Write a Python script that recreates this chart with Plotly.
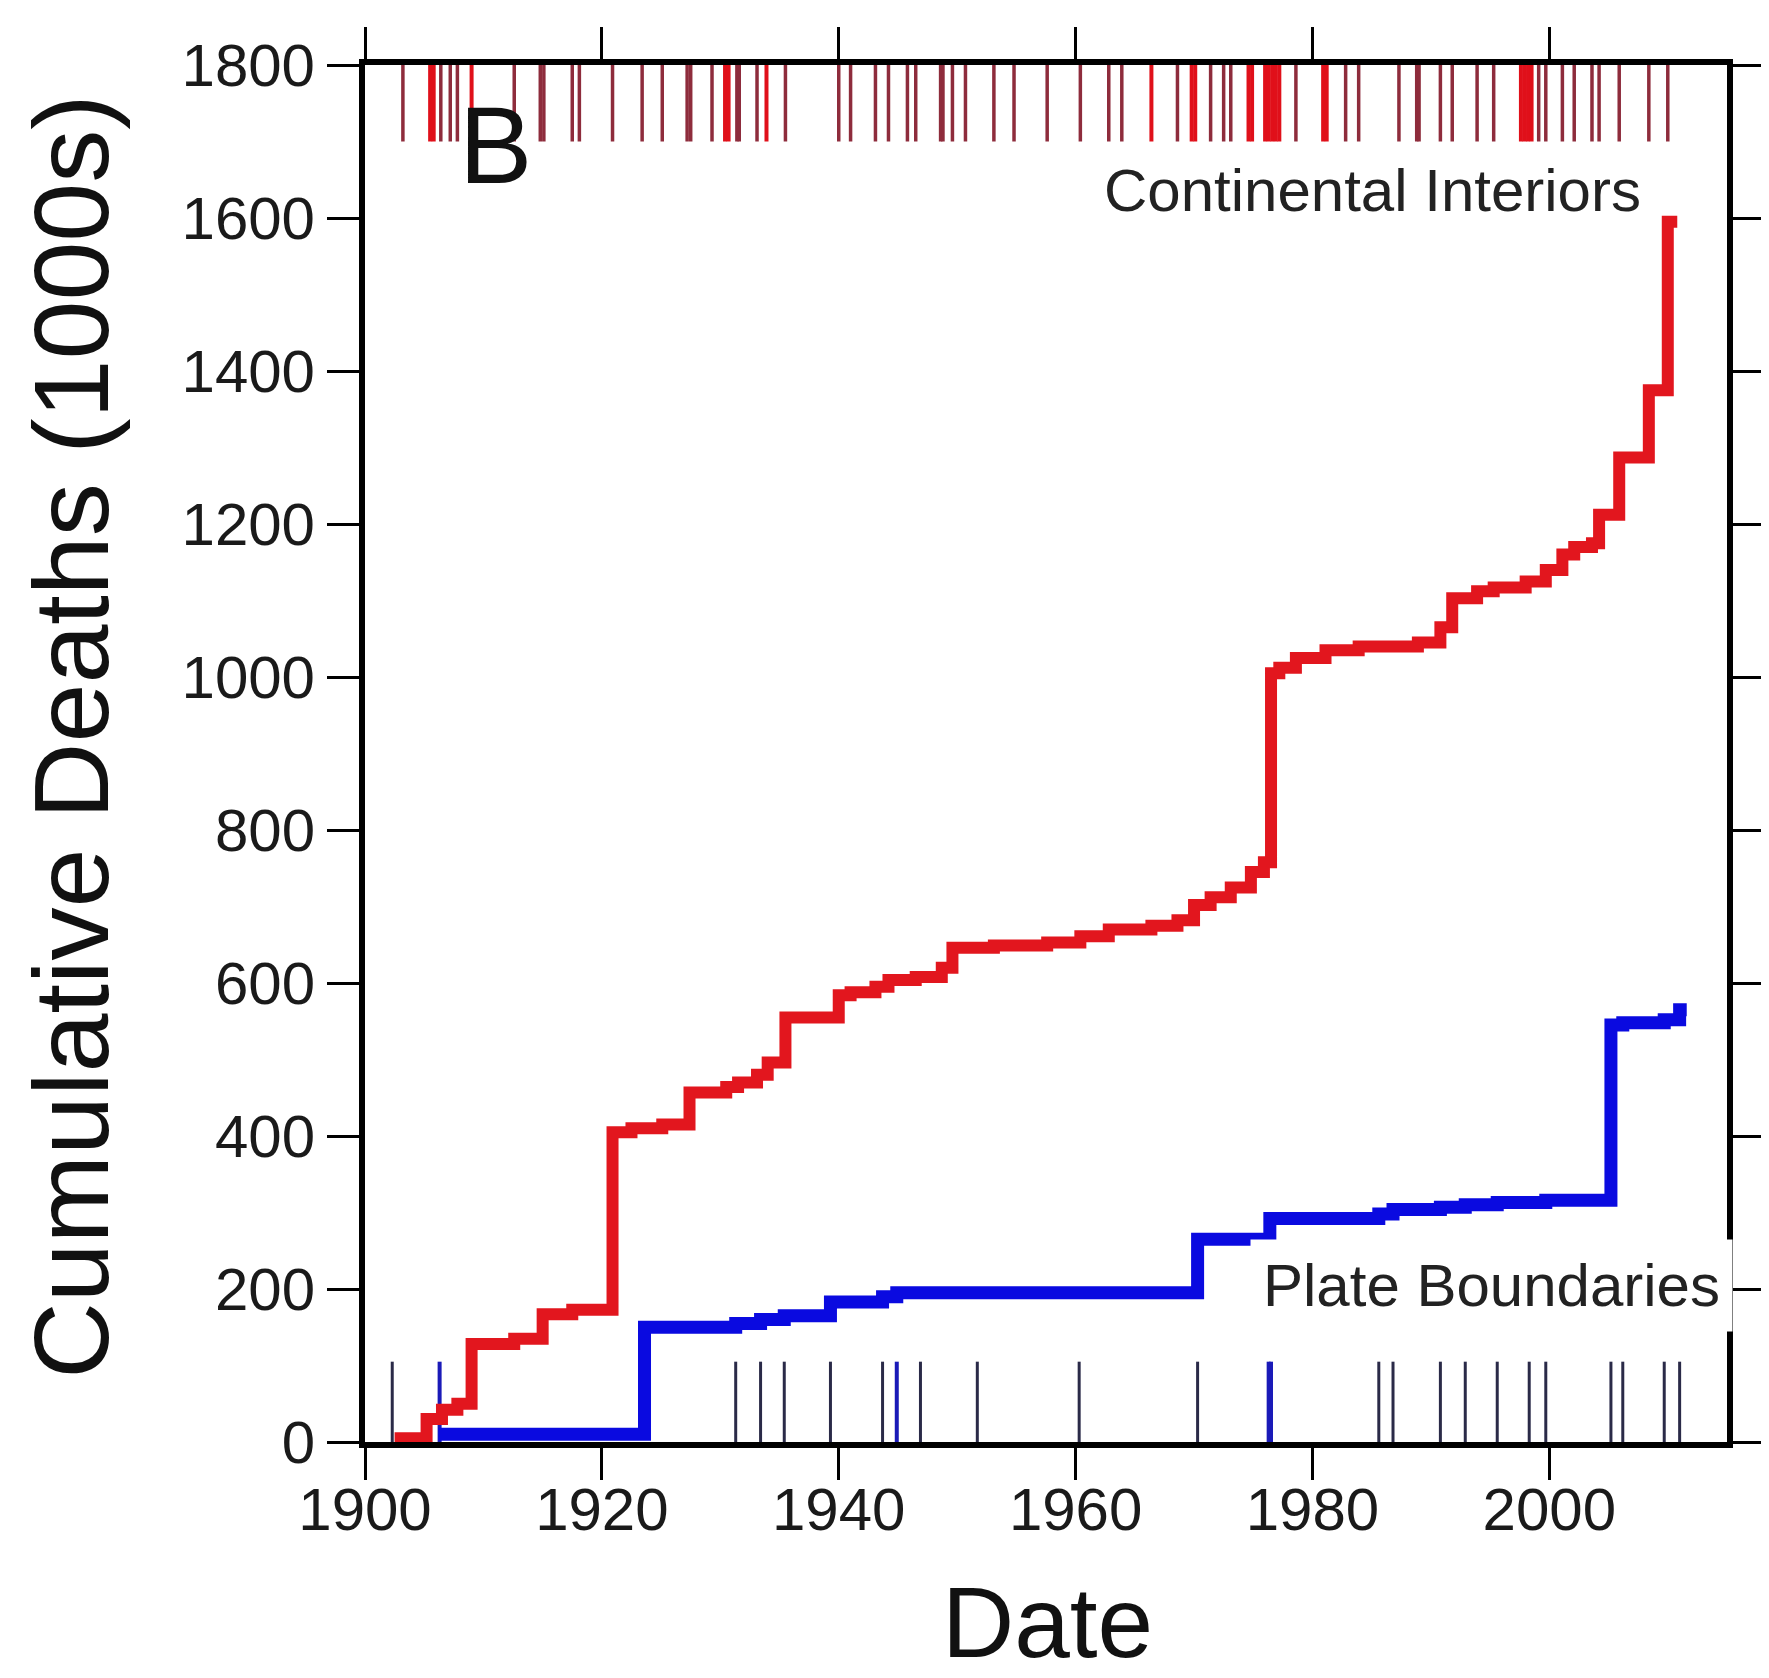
import plotly.graph_objects as go

# ---------------- data ----------------
red_years = [1902.5, 1905.2, 1906.5, 1907.8, 1909.0, 1912.6, 1915.0, 1917.5, 1920.9, 1922.5,
             1925.1, 1927.4, 1930.5, 1931.5, 1933.1, 1934.0, 1935.5, 1940.0, 1941.0, 1943.1,
             1944.2, 1946.5, 1948.7, 1949.6, 1953.1, 1957.6, 1960.4, 1962.8, 1966.4, 1968.6,
             1970.0, 1971.4, 1973.1, 1974.8, 1975.9, 1976.5, 1977.2, 1978.6, 1981.1, 1983.9,
             1988.9, 1990.8, 1991.8, 1993.9, 1995.3, 1998.0, 1999.7, 2001.1, 2002.1, 2003.6,
             2004.2, 2005.9, 2008.4, 2010.0, 2010.8]
red_values = [5, 30, 42, 50, 128, 135, 167, 173, 405, 410,
              415, 457, 464, 470, 480, 496, 555, 584, 588, 595,
              604, 608, 620, 646, 649, 653, 661, 670, 675, 682,
              702, 712, 725, 745, 758, 1005, 1012, 1025, 1035, 1040,
              1045, 1065, 1103, 1112, 1117, 1125, 1140, 1160, 1170, 1175,
              1212, 1287, 1375, 1595, 1595]

blue_years = [1906.2, 1923.6, 1931.3, 1933.4, 1935.4, 1939.3, 1943.7, 1944.9, 1970.3, 1976.4,
              1985.6, 1986.8, 1990.8, 1992.9, 1995.6, 1999.7, 2005.2, 2006.2, 2009.7, 2011.0,
              2011.6]
blue_values = [10, 150, 155, 160, 165, 183, 190, 195, 265, 292,
               298, 304, 307, 310, 313, 316, 545, 548, 552, 565,
               565]

red_rug_dark = [1903.2, 1906.4, 1907.2, 1907.8, 1912.6, 1914.8, 1915.1, 1917.5, 1918.1, 1920.9,
                1923.4, 1925.1, 1927.2, 1927.5, 1929.3, 1931.4, 1931.6, 1933.1, 1935.5, 1940.0,
                1941.0, 1943.1, 1944.2, 1945.8, 1946.5, 1948.6, 1948.8, 1949.6, 1950.7, 1953.1,
                1954.8, 1957.6, 1960.4, 1962.8, 1963.9, 1968.6, 1971.4, 1972.5, 1973.1, 1978.6,
                1982.8, 1983.9, 1987.3, 1988.8, 1989.0, 1990.8, 1991.8, 1993.9, 1995.3, 1999.1,
                1999.7, 2001.1, 2002.1, 2003.6, 2004.2, 2005.9, 2008.4, 2010.0]
red_rug_bright = [1905.5, 1905.8, 1909.0, 1930.4, 1930.7, 1933.9, 1966.4, 1969.8, 1970.1, 1974.6,
                  1974.9, 1976.0, 1976.3, 1976.6, 1976.9, 1977.2, 1980.9, 1981.2, 1997.6, 1997.9,
                  1998.2, 1998.5]

blue_rug_dark = [1902.3, 1931.3, 1933.4, 1935.4, 1939.3, 1943.7, 1946.9, 1951.7, 1960.3, 1970.3,
                 1985.6, 1986.8, 1990.8, 1992.9, 1995.6, 1998.3, 1999.7, 2005.2, 2006.2, 2009.7,
                 2011.0]
blue_rug_bright = [1906.3, 1944.9, 1976.3, 1976.5]

x_ticks = [1900, 1920, 1940, 1960, 1980, 2000]
y_ticks = [0, 200, 400, 600, 800, 1000, 1200, 1400, 1600, 1800]

# ---------------- helpers ----------------
def rug(xs, y0, y1):
    rx, ry = [], []
    for v in xs:
        rx += [v, v, None]
        ry += [y0, y1, None]
    return rx, ry

FONT = "Liberation Sans, Arial, Helvetica, sans-serif"

fig = go.Figure()

for xs, col, lo, hi, w in [
    (red_rug_dark, "#8e2c3c", 1700, 1800, 3.5),
    (red_rug_bright, "#e0101a", 1700, 1800, 4),
    (blue_rug_dark, "#2a2a48", 0, 105, 3),
    (blue_rug_bright, "#1a1ab8", 0, 105, 4),
]:
    rx, ry = rug(xs, lo, hi)
    fig.add_trace(go.Scatter(x=rx, y=ry, mode="lines",
                             line=dict(color=col, width=w),
                             hoverinfo="skip", showlegend=False))

fig.add_trace(go.Scatter(x=blue_years, y=blue_values, mode="lines",
                         line=dict(color="#0a0ae0", width=13, shape="hv"),
                         name="Plate Boundaries", showlegend=False))
fig.add_trace(go.Scatter(x=red_years, y=red_values, mode="lines",
                         line=dict(color="#e2161e", width=12, shape="hv"),
                         name="Continental Interiors", showlegend=False))

axis_common = dict(
    showline=True, linecolor="black", linewidth=6, mirror="ticks",
    ticks="outside", ticklen=32, tickwidth=3, tickcolor="black",
    showgrid=False, zeroline=False,
    tickfont=dict(family=FONT, size=60, color="#1a1a1a"),
)

fig.update_xaxes(range=[1900, 2015], tickvals=x_ticks,
                 ticktext=[str(t) for t in x_ticks], ticklabelstandoff=-22,
                 **axis_common)
fig.update_yaxes(range=[0, 1800], tickvals=y_ticks,
                 ticktext=[str(t) for t in y_ticks], **axis_common)

W, H = 1769, 1678
L, R, T, B = 357, 36, 57, 244

fig.update_layout(
    width=W, height=H,
    margin=dict(l=L, r=R, t=T, b=B),
    paper_bgcolor="white", plot_bgcolor="white",
    font=dict(family=FONT, color="#222"),
    annotations=[
        dict(text="B", xref="paper", yref="paper", x=0.096, y=0.942,
             xanchor="center", yanchor="middle", showarrow=False,
             font=dict(family=FONT, size=110, color="#111")),
        dict(text="Continental Interiors", xref="paper", yref="paper",
             x=0.938, y=0.909, xanchor="right", yanchor="middle", showarrow=False,
             font=dict(family=FONT, size=60, color="#222")),
        dict(text="Plate Boundaries", xref="paper", yref="paper",
             x=1.0044, y=0.114, xanchor="right", yanchor="middle", showarrow=False,
             bgcolor="white", borderpad=12,
             font=dict(family=FONT, size=60, color="#222")),
        dict(text="Cumulative Deaths (1000s)", xref="paper", yref="paper",
             x=-0.216, y=0.512, xanchor="center", yanchor="middle", showarrow=False,
             textangle=-90, font=dict(family=FONT, size=106, color="#111")),
        dict(text="Date", xref="paper", yref="paper",
             x=0.501, y=-0.131, xanchor="center", yanchor="middle", showarrow=False,
             font=dict(family=FONT, size=100, color="#111")),
    ],
)

fig.write_html("out.html")
